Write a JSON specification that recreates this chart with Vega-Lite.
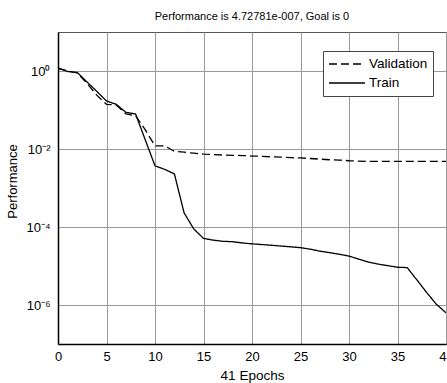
{
  "$schema": "https://vega.github.io/schema/vega-lite/v6.json",
  "autosize": {"type": "none"},
  "padding": {"left": 58, "top": 32, "right": 1, "bottom": 39},
  "width": 388,
  "height": 312,
  "background": "white",
  "title": {"text": "Performance is 4.72781e-007, Goal is 0", "fontSize": 11, "font": "Liberation Sans", "fontWeight": "normal", "anchor": "middle", "offset": 10, "color": "black"},
  "config": {
    "font": "Liberation Sans",
    "view": {"stroke": "#555", "strokeWidth": 1}
  },
  "data": {"values": [
    {"epoch": 0, "series": "Train", "perf": 1.19},
    {"epoch": 1, "series": "Train", "perf": 0.97},
    {"epoch": 2, "series": "Train", "perf": 0.91},
    {"epoch": 3, "series": "Train", "perf": 0.52},
    {"epoch": 4, "series": "Train", "perf": 0.30},
    {"epoch": 5, "series": "Train", "perf": 0.17},
    {"epoch": 6, "series": "Train", "perf": 0.14},
    {"epoch": 7, "series": "Train", "perf": 0.087},
    {"epoch": 8, "series": "Train", "perf": 0.079},
    {"epoch": 9, "series": "Train", "perf": 0.017},
    {"epoch": 10, "series": "Train", "perf": 0.0037},
    {"epoch": 11, "series": "Train", "perf": 0.0030},
    {"epoch": 12, "series": "Train", "perf": 0.0023},
    {"epoch": 13, "series": "Train", "perf": 0.00023},
    {"epoch": 14, "series": "Train", "perf": 0.000089},
    {"epoch": 15, "series": "Train", "perf": 0.000051},
    {"epoch": 16, "series": "Train", "perf": 0.000046},
    {"epoch": 17, "series": "Train", "perf": 0.000043},
    {"epoch": 18, "series": "Train", "perf": 0.000042},
    {"epoch": 19, "series": "Train", "perf": 0.000039},
    {"epoch": 20, "series": "Train", "perf": 0.000037},
    {"epoch": 21, "series": "Train", "perf": 0.0000355},
    {"epoch": 22, "series": "Train", "perf": 0.000034},
    {"epoch": 23, "series": "Train", "perf": 0.0000325},
    {"epoch": 24, "series": "Train", "perf": 0.000031},
    {"epoch": 25, "series": "Train", "perf": 0.0000295},
    {"epoch": 26, "series": "Train", "perf": 0.000027},
    {"epoch": 27, "series": "Train", "perf": 0.000024},
    {"epoch": 28, "series": "Train", "perf": 0.000022},
    {"epoch": 29, "series": "Train", "perf": 0.000020},
    {"epoch": 30, "series": "Train", "perf": 0.000018},
    {"epoch": 31, "series": "Train", "perf": 0.000015},
    {"epoch": 32, "series": "Train", "perf": 0.0000126},
    {"epoch": 33, "series": "Train", "perf": 0.0000112},
    {"epoch": 34, "series": "Train", "perf": 0.0000102},
    {"epoch": 35, "series": "Train", "perf": 0.0000093},
    {"epoch": 36, "series": "Train", "perf": 0.0000091},
    {"epoch": 37, "series": "Train", "perf": 0.0000044},
    {"epoch": 38, "series": "Train", "perf": 0.0000021},
    {"epoch": 39, "series": "Train", "perf": 0.00000105},
    {"epoch": 40, "series": "Train", "perf": 0.00000063},
    {"epoch": 0, "series": "Validation", "perf": 1.17},
    {"epoch": 1, "series": "Validation", "perf": 1.0},
    {"epoch": 2, "series": "Validation", "perf": 0.89},
    {"epoch": 3, "series": "Validation", "perf": 0.48},
    {"epoch": 4, "series": "Validation", "perf": 0.24},
    {"epoch": 5, "series": "Validation", "perf": 0.14},
    {"epoch": 6, "series": "Validation", "perf": 0.135},
    {"epoch": 7, "series": "Validation", "perf": 0.079},
    {"epoch": 8, "series": "Validation", "perf": 0.071},
    {"epoch": 9, "series": "Validation", "perf": 0.031},
    {"epoch": 10, "series": "Validation", "perf": 0.012},
    {"epoch": 11, "series": "Validation", "perf": 0.012},
    {"epoch": 12, "series": "Validation", "perf": 0.0087},
    {"epoch": 13, "series": "Validation", "perf": 0.0083},
    {"epoch": 14, "series": "Validation", "perf": 0.0078},
    {"epoch": 15, "series": "Validation", "perf": 0.0074},
    {"epoch": 16, "series": "Validation", "perf": 0.0072},
    {"epoch": 17, "series": "Validation", "perf": 0.0070},
    {"epoch": 18, "series": "Validation", "perf": 0.0069},
    {"epoch": 19, "series": "Validation", "perf": 0.0068},
    {"epoch": 20, "series": "Validation", "perf": 0.0066},
    {"epoch": 21, "series": "Validation", "perf": 0.0065},
    {"epoch": 22, "series": "Validation", "perf": 0.0063},
    {"epoch": 23, "series": "Validation", "perf": 0.0062},
    {"epoch": 24, "series": "Validation", "perf": 0.0060},
    {"epoch": 25, "series": "Validation", "perf": 0.0059},
    {"epoch": 26, "series": "Validation", "perf": 0.0057},
    {"epoch": 27, "series": "Validation", "perf": 0.0055},
    {"epoch": 28, "series": "Validation", "perf": 0.0053},
    {"epoch": 29, "series": "Validation", "perf": 0.0052},
    {"epoch": 30, "series": "Validation", "perf": 0.0050},
    {"epoch": 31, "series": "Validation", "perf": 0.0049},
    {"epoch": 32, "series": "Validation", "perf": 0.0048},
    {"epoch": 33, "series": "Validation", "perf": 0.0048},
    {"epoch": 34, "series": "Validation", "perf": 0.0048},
    {"epoch": 35, "series": "Validation", "perf": 0.0048},
    {"epoch": 36, "series": "Validation", "perf": 0.0048},
    {"epoch": 37, "series": "Validation", "perf": 0.0048},
    {"epoch": 38, "series": "Validation", "perf": 0.0048},
    {"epoch": 39, "series": "Validation", "perf": 0.0048},
    {"epoch": 40, "series": "Validation", "perf": 0.0048}
  ]},
  "mark": {"type": "line", "color": "black", "strokeWidth": 1.3, "clip": true},
  "encoding": {
    "x": {
      "field": "epoch", "type": "quantitative",
      "scale": {"domain": [0, 40], "nice": false, "zero": false},
      "axis": {
        "title": "41 Epochs", "titleFontSize": 13.5, "titleFontWeight": "normal", "titleColor": "black", "titlePadding": 5,
        "values": [0, 5, 10, 15, 20, 25, 30, 35, 40],
        "labelFontSize": 13, "labelColor": "black", "labelPadding": 6, "labelFlush": false,
        "ticks": false, "domainColor": "black", "domainWidth": 1.5,
        "grid": true, "gridColor": "#999", "gridWidth": 1
      }
    },
    "y": {
      "field": "perf", "type": "quantitative",
      "scale": {"type": "log", "domain": [1e-7, 10], "nice": false},
      "axis": {
        "title": "Performance", "titleFontSize": 13, "titleFontWeight": "normal", "titleColor": "black", "titlePadding": 6, "titleY": 149,
        "values": [1, 0.01, 0.0001, 0.000001],
        "labelExpr": "'10' + (datum.value > 0.5 ? '⁰' : datum.value > 0.005 ? '⁻²' : datum.value > 0.00005 ? '⁻⁴' : '⁻⁶')",
        "labelFontSize": 13, "labelColor": "black", "labelPadding": 8,
        "ticks": false, "domainColor": "black", "domainWidth": 1.5,
        "grid": true, "gridColor": "#999", "gridWidth": 1
      }
    },
    "strokeDash": {
      "field": "series", "type": "nominal",
      "scale": {"domain": ["Validation", "Train"], "range": [[8, 4], [1, 0]]},
      "legend": {
        "title": null, "orient": "none", "legendX": 265, "legendY": 19,
        "fillColor": "white", "strokeColor": "#444", "padding": 5,
        "symbolType": "stroke", "symbolSize": 1300, "symbolStrokeWidth": 1.3, "symbolStrokeColor": "black",
        "clipHeight": 16,
        "labelFontSize": 13.5, "labelColor": "black", "labelOffset": 3, "rowPadding": 3
      }
    }
  }
}
